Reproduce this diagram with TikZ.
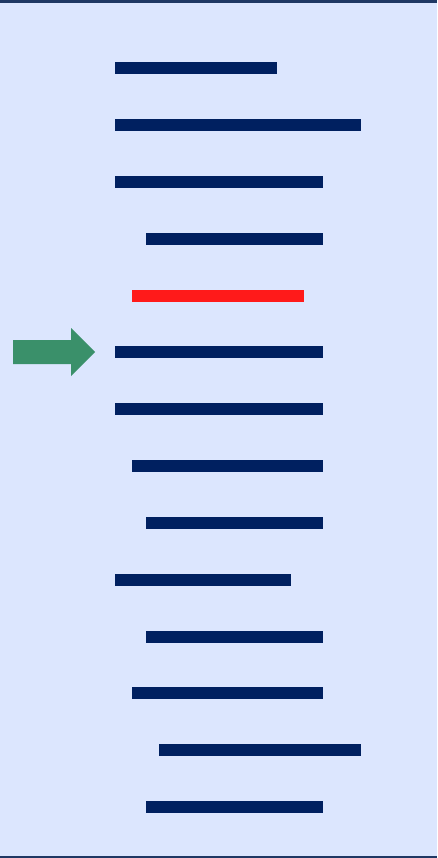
\documentclass[tikz,border=0pt]{standalone}
\definecolor{bg}{HTML}{DCE6FE}
\definecolor{navy}{HTML}{002060}
\definecolor{edge}{HTML}{1F3864}
\definecolor{hred}{HTML}{FF1A1A}
\definecolor{agreen}{HTML}{3A906A}
\begin{document}
\begin{tikzpicture}[x=1pt,y=-1pt,
  bar/.style={fill=navy},
  hbar/.style={fill=hred}]
\fill[bg] (0,0) rectangle (437,858);
\useasboundingbox (0,0) rectangle (437,858);
\draw[edge,line width=2.2pt] (0,1.6) -- (437,1.6);
\draw[edge,line width=2.2pt] (0,856.6) -- (437,856.6);
% bars: y centres
\foreach \xa/\xb/\yc in {115/277/68, 115/361/125, 115/323/182, 146/323/239,
  115/323/352, 115/323/409, 132/323/466, 146/323/523, 115/291/580,
  146/323/637, 132/323/693, 159/361/750, 146/323/807}
  \fill[bar] (\xa,\yc-6) rectangle (\xb,\yc+6);
\fill[hbar] (132,290) rectangle (304,302);
% arrow
\fill[agreen] (13,340) -- (71,340) -- (71,328) -- (95,352) -- (71,376) -- (71,364) -- (13,364) -- cycle;
\end{tikzpicture}
\end{document}
